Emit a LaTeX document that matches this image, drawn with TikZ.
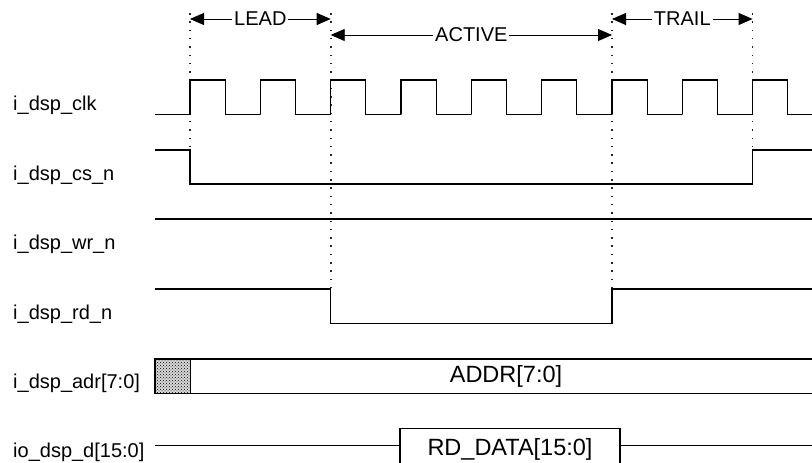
\documentclass[tikz,border=0pt]{standalone}
\usepackage{fontspec}
\setmainfont{Liberation Sans}
\usetikzlibrary{arrows.meta,patterns}

\tikzset{
  sig/.style={line width=1.2pt},
  guide/.style={line width=1.6pt, dash pattern=on 1.5pt off 6.8pt, black!85},
  span/.style={{Triangle[length=14pt,width=12pt]}-{Triangle[length=14pt,width=12pt]}, line width=0.9pt},
  phase/.style={fill=white, inner xsep=2pt, inner ysep=0pt, font=\fontsize{20}{22}\selectfont},
  lbl/.style={anchor=base west, inner sep=0pt, font=\fontsize{20}{22}\selectfont},
  bus/.style={anchor=base, inner sep=0pt, font=\fontsize{23.5}{26}\selectfont},
}

\begin{document}
\begin{tikzpicture}[x=1pt,y=-1pt]
    \clip (0,0) rectangle (812,463);
    % phase boundaries
    \coordinate (t0) at (190,13);
    \coordinate (t1) at (330.7,13);
    \coordinate (t2) at (612,13);
    \coordinate (t3) at (752.6,13);
    \draw[guide] (t0)--(190,146);
    \draw[guide] (t1)--(330.7,289);
    \draw[guide] (t2)--(612,289);
    \draw[guide] (t3)--(752.6,150);
    \coordinate (lead0) at (190,19);
    \coordinate (lead1) at (330.7,19);
    \coordinate (act0) at (330.7,35);
    \coordinate (act1) at (612,35);
    \coordinate (trail0) at (612,19);
    \coordinate (trail1) at (752.6,19);
    \draw[span] (lead0)--node[phase]{LEAD}(lead1);
    \draw[span] (act0)--node[phase]{ACTIVE}(act1);
    \draw[span] (trail0)--node[phase]{TRAIL}(trail1);
    % signal names
    \node[lbl] (clk) at (13,110.5) {i\_dsp\_clk};
    \node[lbl] (csn) at (13,180) {i\_dsp\_cs\_n};
    \node[lbl] (wrn) at (13,249.5) {i\_dsp\_wr\_n};
    \node[lbl] (rdn) at (13,319) {i\_dsp\_rd\_n};
    \node[lbl] (adr) at (13,388) {i\_dsp\_adr[7:0]};
    \node[lbl] (dat) at (13,457.5) {io\_dsp\_d[15:0]};
    % waveforms
    \draw[sig,line join=miter] (155,114.3) foreach \k in {0,...,8} {
        --({190+70.33*\k},114.3) |- ({225.2+70.33*\k},80) |- ({260.5+70.33*\k},114.3)};
    \draw[sig] (155,150) -| (190,184) -| (752.6,150) -- (820,150);
    \draw[sig] (155,219) -- (820,219);
    \draw[sig] (155,289) -| (330.7,323.3) -| (612,289) -- (820,289);
    \fill[black!15] (155,359) rectangle (190.7,393.7);
    \fill[pattern=crosshatch dots] (155,359) rectangle (190.7,393.7);
    \draw[sig] (820,359) -| (155,393.7) -- (820,393.7);
    \draw[sig] (190.7,359) -- (190.7,393.7);
    \node[bus] (addr) at (506,382.5) {ADDR[7:0]};
    \node[draw, sig, minimum width=220pt, minimum height=35pt, inner sep=0pt] (rd) at (510,445.7) {};
    \node[bus] (rdtxt) at (510,455) {RD\_DATA[15:0]};
    \draw[sig] (155,445.7) -- (rd.west);
    \draw[sig] (rd.east) -- (820,445.7);
\end{tikzpicture}
\end{document}
